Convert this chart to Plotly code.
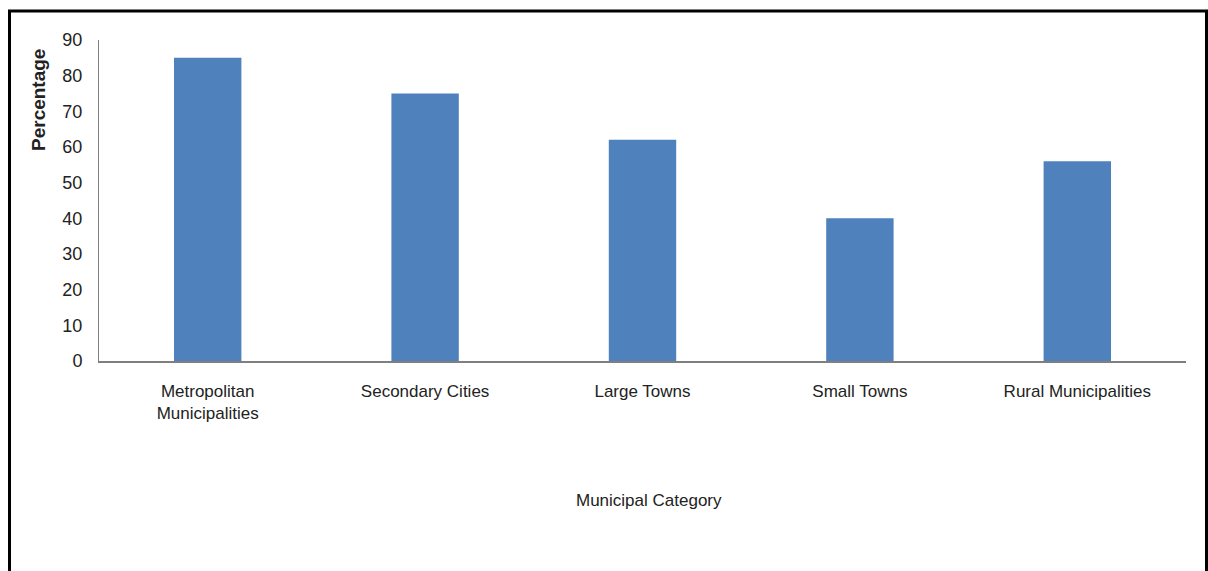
import plotly.graph_objects as go

categories = ["Metropolitan<br>Municipalities", "Secondary Cities", "Large Towns",
              "Small Towns", "Rural Municipalities"]
percentages = [85, 75, 62, 40, 56]
y_ticks = [0, 10, 20, 30, 40, 50, 60, 70, 80, 90]

FONT = "Liberation Sans Narrow, Arial Narrow, sans-serif"
W, H = 1208, 571
ML, MR, MT, MB = 99, 22, 40, 210
pw, ph = W - ML - MR, H - MT - MB


def px_x(x):
    return (x - ML) / pw


def px_y(y):
    return (H - MB - y) / ph


fig = go.Figure(go.Bar(
    x=categories, y=percentages,
    marker=dict(color="#4F81BD", line=dict(width=0)),
    width=0.31,
))

fig.update_layout(
    width=W, height=H,
    margin=dict(l=ML, r=MR, t=MT, b=MB, autoexpand=False),
    paper_bgcolor="white", plot_bgcolor="white",
    showlegend=False,
    font=dict(family=FONT, size=17, color="#222222"),
    xaxis=dict(
        showline=True, linecolor="#7f7f7f", linewidth=1.5,
        ticks="", showgrid=False, ticklabelstandoff=14,
        tickfont=dict(size=17, family=FONT, color="#222222"),
    ),
    yaxis=dict(
        range=[0, 90], tickvals=y_ticks, showline=True, linecolor="#7f7f7f",
        linewidth=1, ticks="", showgrid=False, zeroline=False,
        ticklabelstandoff=12,
        tickfont=dict(size=18, family=FONT, color="#222222"),
    ),
    shapes=[dict(
        type="rect", xref="paper", yref="paper",
        x0=px_x(9.5), x1=px_x(1206.5), y0=px_y(590), y1=px_y(11),
        line=dict(color="black", width=3), fillcolor="rgba(0,0,0,0)",
    )],
    annotations=[
        dict(text="<b>Percentage</b>", textangle=-90, xref="paper", yref="paper",
             x=px_x(38), y=px_y(100), xanchor="center", yanchor="middle",
             showarrow=False,
             font=dict(size=19, family=FONT, color="#222222")),
        dict(text="Municipal Category", xref="paper", yref="paper",
             x=px_x(649), y=px_y(500), xanchor="center", yanchor="middle",
             showarrow=False,
             font=dict(size=17, family=FONT, color="#222222")),
    ],
)

fig.write_html("out.html")
